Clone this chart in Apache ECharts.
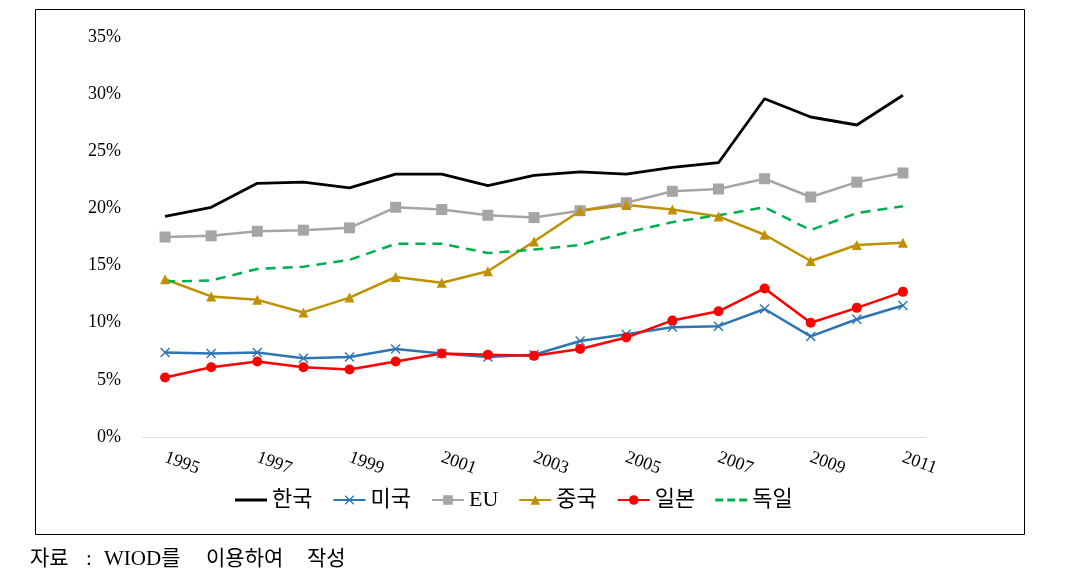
<!DOCTYPE html>
<html><head><meta charset="utf-8">
<script src="https://cdn.jsdelivr.net/npm/echarts@6/dist/echarts.min.js"></script>
<style>html,body{margin:0;padding:0;background:#fff}#c{width:1088px;height:586px}</style>
</head><body><div id="c"></div>
<script>
const years = ['1995','1996','1997','1998','1999','2000','2001','2002','2003','2004','2005','2006','2007','2008','2009','2010','2011'];
const korea   = [19.3,20.1,22.2,22.3,21.8,23.0,23.0,22.0,22.9,23.2,23.0,23.6,24.0,29.6,28.0,27.3,29.9];
const usa     = [7.4,7.3,7.4,6.9,7.0,7.7,7.3,7.0,7.2,8.4,9.0,9.6,9.7,11.2,8.8,10.3,11.5];
const eu      = [17.5,17.6,18.0,18.1,18.3,20.1,19.9,19.4,19.2,19.8,20.5,21.5,21.7,22.6,21.0,22.3,23.1];
const china   = [13.8,12.3,12.0,10.9,12.2,14.0,13.5,14.5,17.1,19.8,20.3,19.9,19.3,17.7,15.4,16.8,17.0];
const japan   = [5.2,6.1,6.6,6.1,5.9,6.6,7.3,7.2,7.1,7.7,8.7,10.2,11.0,13.0,10.0,11.3,12.7];
const germany = [13.6,13.7,14.7,14.9,15.5,16.9,16.9,16.1,16.4,16.8,17.9,18.8,19.4,20.1,18.1,19.6,20.2];
const names = ['한국','미국','EU','중국','일본','독일'];
const yTicks = [0,5,10,15,20,25,30,35];

const chart = echarts.init(document.getElementById('c'));
const serif = '"Liberation Serif","Noto Sans CJK KR",serif';
const xShape = 'path://M0,1L1,0L5,4L9,0L10,1L6,5L10,9L9,10L5,6L1,10L0,9L4,5Z';
const solidIcon = 'path://M0,0H32V3H0Z';
const dashIcon = 'path://M0,0H8V3H0ZM12,0H20V3H12ZM24,0H32V3H24Z';
function s(name, data, color, symbol, size, extra) {
  return Object.assign({
    name, type: 'line', data, symbol, symbolSize: size, showSymbol: symbol !== 'none',
    lineStyle: { color, width: 2.5 }, itemStyle: { color }, animation: false
  }, extra || {});
}
const capFont = '21px "Liberation Serif","Noto Sans CJK KR",serif';
chart.setOption({
  animation: false,
  grid: { left: 142, right: 162, top: 37, bottom: 149 },
  xAxis: {
    type: 'category', data: years, boundaryGap: true,
    axisLine: { lineStyle: { color: '#d9d9d9', width: 1 } },
    axisTick: { show: false },
    axisLabel: { interval: 1, rotate: -20, fontFamily: serif, fontSize: 18, color: '#000', margin: 20 }
  },
  yAxis: {
    type: 'value', min: 0, max: 35, interval: 5,
    axisLine: { show: false }, axisTick: { show: false }, splitLine: { show: false },
    axisLabel: { formatter: v => yTicks.includes(v) ? v + '%' : '', fontFamily: serif, fontSize: 18, color: '#000', margin: 21 }
  },
  legend: {
    left: 230, top: 484, itemWidth: 32, itemHeight: 12, itemGap: 20,
    textStyle: { fontFamily: serif, fontSize: 22, color: '#000' },
    data: [
      { name: names[0], icon: solidIcon },
      names[1], names[2], names[3], names[4],
      { name: names[5], icon: dashIcon }
    ]
  },
  graphic: [
    { type: 'rect', shape: { x: 35.5, y: 9.5, width: 989, height: 525 }, style: { fill: 'none', stroke: '#000', lineWidth: 1 } },
    { type: 'text', x: 30, y: 549, style: { text: '자료', font: capFont, fill: '#000' } },
    { type: 'text', x: 86, y: 549, style: { text: ':', font: capFont, fill: '#000' } },
    { type: 'text', x: 104, y: 549, style: { text: 'WIOD를', font: capFont, fill: '#000' } },
    { type: 'text', x: 206, y: 549, style: { text: '이용하여', font: capFont, fill: '#000' } },
    { type: 'text', x: 307, y: 549, style: { text: '작성', font: capFont, fill: '#000' } }
  ],
  series: [
    s(names[0], korea, '#000000', 'none', 0, { lineStyle: { color: '#000', width: 2.8 } }),
    s(names[1], usa, '#2e75b6', xShape, 10),
    s(names[2], eu, '#a5a5a5', 'rect', 11),
    s(names[3], china, '#bf9000', 'triangle', 10),
    s(names[4], japan, '#ff0000', 'circle', 10),
    s(names[5], germany, '#00b050', 'none', 0, { lineStyle: { color: '#00b050', width: 2.5, type: [10, 7] } })
  ]
});
</script></body></html>
